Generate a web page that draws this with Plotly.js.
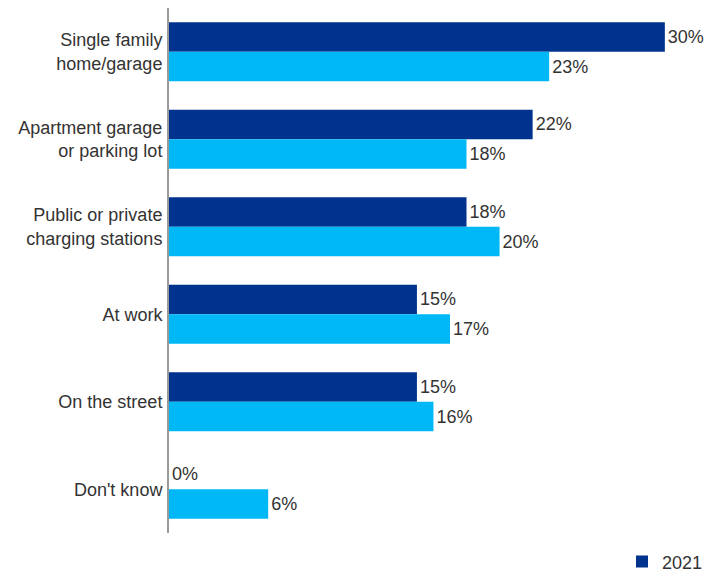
<!DOCTYPE html>
<html>
<head>
<meta charset="utf-8">
<script src="https://cdn.plot.ly/plotly-3.0.1.min.js"></script>
<style>html,body{margin:0;padding:0;background:#fff;}#chart{width:707px;height:575px;}</style>
</head>
<body>
<div id="chart"></div>
<script>
var categories = ["Single family<br>home/garage", "Apartment garage<br>or parking lot", "Public or private<br>charging stations", "At work", "On the street", "Don't know"];
var seriesNames = ["2021", "2022"];
var seriesA = [30, 22, 18, 15, 15, 0];
var seriesB = [23, 18, 20, 17, 16, 6];

var font = {family: "Arial, 'Liberation Sans', sans-serif", size: 18, color: "#333333"};

var traces = [
  {type: "bar", orientation: "h", name: seriesNames[0], y: categories, x: seriesA,
   marker: {color: "#00338D"}, text: seriesA.map(function(v){return v + "%";}),
   textposition: "outside", cliponaxis: false, textfont: font, hoverinfo: "none"},
  {type: "bar", orientation: "h", name: seriesNames[1], y: categories, x: seriesB,
   marker: {color: "#00B8F5"}, text: seriesB.map(function(v){return v + "%";}),
   textposition: "outside", cliponaxis: false, textfont: font, hoverinfo: "none", showlegend: false}
];

var layout = {
  width: 707, height: 575,
  margin: {l: 169, r: 0, t: 8, b: 42, autoexpand: false},
  paper_bgcolor: "#ffffff", plot_bgcolor: "#ffffff",
  font: font,
  barmode: "group", bargap: 0.325, bargroupgap: 0,
  xaxis: {range: [0, 32.55], visible: false, fixedrange: true},
  yaxis: {autorange: "reversed", showline: true, linecolor: "#999999", linewidth: 2,
          showgrid: false, zeroline: false, ticks: "", ticklabelstandoff: 1, tickfont: font},
  showlegend: true,
  legend: {orientation: "h", x: 1, xanchor: "right", y: -0.055, yanchor: "middle",
           entrywidth: 40, entrywidthmode: "pixels",
           font: {family: font.family, size: 18, color: "#333333"}, bgcolor: "rgba(0,0,0,0)"}
};

Plotly.newPlot("chart", traces, layout, {displayModeBar: false, staticPlot: true});
</script>
</body>
</html>
